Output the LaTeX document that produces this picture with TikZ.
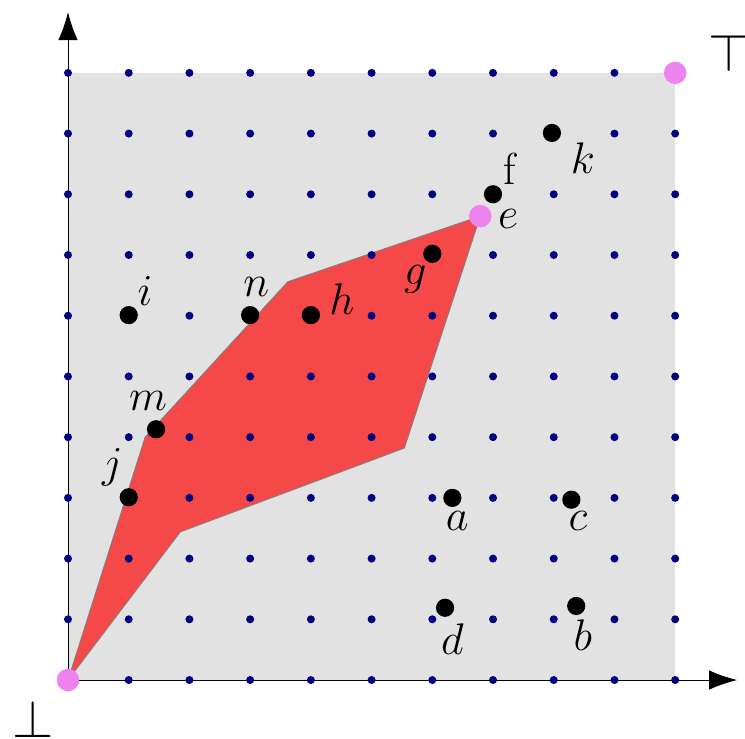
\documentclass[tikz,border=0pt]{standalone}
\usetikzlibrary{arrows.meta}
\definecolor{navydot}{RGB}{0,0,128}
\definecolor{hullred}{RGB}{245,72,72}
\definecolor{extpink}{RGB}{238,130,238}
\tikzset{
  pt/.style={circle, fill=black, inner sep=0pt, minimum size=0.3cm},
  ext/.style={circle, fill=extpink, inner sep=0pt, minimum size=0.37cm},
  lbl/.style={inner sep=0pt, font=\fontsize{21}{25}\selectfont},
  bnd/.style={inner sep=0pt, anchor=base, font=\fontsize{31}{36}\selectfont},
}
\begin{document}
\begin{tikzpicture}[line join=round, line cap=round]
    \useasboundingbox (-1.12,-0.955) rectangle (11.15,11.2);
    \fill[gray!23] (0,0) rectangle (10,10);
    % hull
    \filldraw[fill=hullred, draw=gray, thin] (0,0) -- (1.27,4.0) -- (3.62,6.56) -- (6.79,7.64)
      -- (5.54,3.82) -- (1.85,2.44) -- cycle;
    % axes
    \coordinate (O) at (0,0);
    \coordinate (xend) at (11.02,0);
    \coordinate (yend) at (0,11.0);
    \draw[-{Latex[length=0.46cm,width=0.32cm]}] (O) -- (xend);
    \draw[-{Latex[length=0.46cm,width=0.32cm]}] (O) -- (yend);
    \foreach \x in {0,...,10}
      \foreach \y in {0,...,10}
        \fill[navydot] (\x,\y) circle (0.066);
    % points
    \node[pt] (a) at (6.33,3.0) {};
    \node[pt] (b) at (8.37,1.22) {};
    \node[pt] (c) at (8.29,2.97) {};
    \node[pt] (d) at (6.21,1.19) {};
    \node[pt] (f) at (7.0,8.0) {};
    \node[pt] (g) at (6.0,7.02) {};
    \node[pt] (h) at (4.0,6.01) {};
    \node[pt] (i) at (1.0,6.01) {};
    \node[pt] (j) at (1.0,3.01) {};
    \node[pt] (k) at (7.97,9.01) {};
    \node[pt] (m) at (1.45,4.13) {};
    \node[pt] (n) at (3.0,6.01) {};
    \node[ext] (bot) at (0,0) {};
    \node[ext] (e) at (6.79,7.64) {};
    \node[ext] (top) at (10,10) {};
    % labels
    \node[lbl] (la) at (6.41,2.62) {$a$};
    \node[lbl] (lb) at (8.48,0.74) {$b$};
    \node[lbl] (lc) at (8.4,2.62) {$c$};
    \node[lbl] (ld) at (6.33,0.68) {$d$};
    \node[lbl] (le) at (7.25,7.6) {$e$};
    \node[lbl] (lf) at (7.27,8.42) {f};
    \node[lbl] (lg) at (5.72,6.6) {$g$};
    \node[lbl] (lh) at (4.51,6.28) {$h$};
    \node[lbl] (li) at (1.27,6.4) {$i$};
    \node[lbl] (lj) at (0.73,3.5) {$j$};
    \node[lbl] (lk) at (8.48,8.6) {$k$};
    \node[lbl] (lm) at (1.32,4.6) {$m$};
    \node[lbl] (ln) at (3.1,6.48) {$n$};
    \node[bnd] (lbot) at (-0.58,-0.95) {$\bot$};
    \node[bnd] (ltop) at (10.89,10.03) {$\top$};
  \end{tikzpicture}
\end{document}
